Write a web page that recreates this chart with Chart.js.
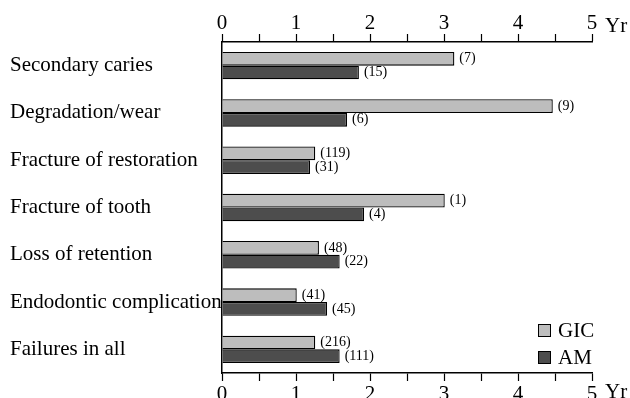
<!DOCTYPE html>
<html>
<head>
<meta charset="utf-8">
<script src="https://cdn.jsdelivr.net/npm/chart.js@4"></script>
<style>
  html, body { margin: 0; padding: 0; background: #fff; }
  #wrap { width: 630px; height: 398px; }
</style>
</head>
<body>
<div id="wrap"><canvas id="failures"></canvas></div>
<script>
// Failure categories and mean survival (years)
const categories = ['Secondary caries', 'Degradation/wear', 'Fracture of restoration', 'Fracture of tooth', 'Loss of retention', 'Endodontic complication', 'Failures in all'];
const gicYears = [3.14, 4.47, 1.26, 3.01, 1.31, 1.01, 1.26];
const amYears = [1.85, 1.69, 1.19, 1.92, 1.59, 1.42, 1.59];
// number of failures shown next to each bar
const gicCounts = [7, 9, 119, 1, 48, 41, 216];
const amCounts = [15, 6, 31, 4, 22, 45, 111];
const xTicks = [0, 1, 2, 3, 4, 5];

const serif = '"Liberation Serif", "Times New Roman", serif';
Chart.defaults.font.family = serif;
Chart.defaults.color = '#000';

const countLabels = {
  id: 'countLabels',
  afterDatasetsDraw(chart) {
    const ctx = chart.ctx;
    ctx.save();
    ctx.font = '14px ' + serif;
    ctx.fillStyle = '#000';
    ctx.textBaseline = 'middle';
    const counts = [gicCounts, amCounts];
    chart.data.datasets.forEach((ds, i) => {
      chart.getDatasetMeta(i).data.forEach((bar, j) => {
        ctx.fillText('(' + counts[i][j] + ')', bar.x + 5, bar.y);
      });
    });
    // unit next to the last tick of both axes
    ctx.font = '21px ' + serif;
    ctx.textBaseline = 'alphabetic';
    ctx.fillText('Yr', 605, 32);
    ctx.fillText('Yr', 605, 398);
    // legend
    const items = [['GIC', '#bdbdbd', 330], ['AM', '#4d4d4d', 357]];
    items.forEach(([name, col, y]) => {
      ctx.fillStyle = col;
      ctx.fillRect(538, y - 6, 12, 12);
      ctx.strokeStyle = '#000';
      ctx.lineWidth = 1;
      ctx.strokeRect(538.5, y - 5.5, 12, 12);
      ctx.fillStyle = '#000';
      ctx.textBaseline = 'middle';
      ctx.fillText(name, 558, y + 1);
    });
    ctx.restore();
  }
};

function axisTicks(value) {
  return xTicks.includes(value) ? String(value) : '';
}

new Chart(
  document.getElementById('failures'),
  {
    type: 'bar',
    data: {
      labels: categories,
      datasets: [
        {
          label: 'GIC',
          data: gicYears,
          backgroundColor: '#bdbdbd',
          borderColor: '#000',
          borderWidth: 1.3,
          borderSkipped: 'left'
        },
        {
          label: 'AM',
          data: amYears,
          backgroundColor: '#4d4d4d',
          borderColor: '#000',
          borderWidth: 1.3,
          borderSkipped: 'left'
        }
      ]
    },
    options: {
      indexAxis: 'y',
      responsive: true,
      maintainAspectRatio: false,
      animation: false,
      layout: { padding: { left: 10, right: 38, top: 0, bottom: 0 } },
      datasets: {
        bar: { categoryPercentage: 0.58, barPercentage: 1 }
      },
      plugins: {
        legend: { display: false },
        tooltip: { enabled: false }
      },
      scales: {
        x: {
          position: 'bottom',
          min: 0,
          max: 5,
          afterFit(scale) { scale.height = 25; },
          ticks: { stepSize: 0.5, autoSkip: false, maxRotation: 0, padding: 1, font: { size: 21 }, callback: axisTicks },
          grid: { drawOnChartArea: false, tickLength: 8, color: '#000', tickWidth: 1.2 },
          border: { color: '#000', width: 1.5 }
        },
        xTop: {
          position: 'top',
          axis: 'x',
          min: 0,
          max: 5,
          afterFit(scale) { scale.height = 42; },
          ticks: { stepSize: 0.5, autoSkip: false, maxRotation: 0, padding: -2, font: { size: 21 }, callback: axisTicks },
          grid: { drawOnChartArea: false, tickLength: 8, color: '#000', tickWidth: 1.2 },
          border: { color: '#000', width: 1.5 }
        },
        y: {
          afterFit(scale) { scale.width = 212; },
          ticks: { crossAlign: 'far', padding: 0, font: { size: 21 } },
          grid: { display: false, drawTicks: false },
          border: { color: '#000', width: 1.5 }
        }
      }
    },
    plugins: [countLabels]
  }
);
</script>
</body>
</html>
